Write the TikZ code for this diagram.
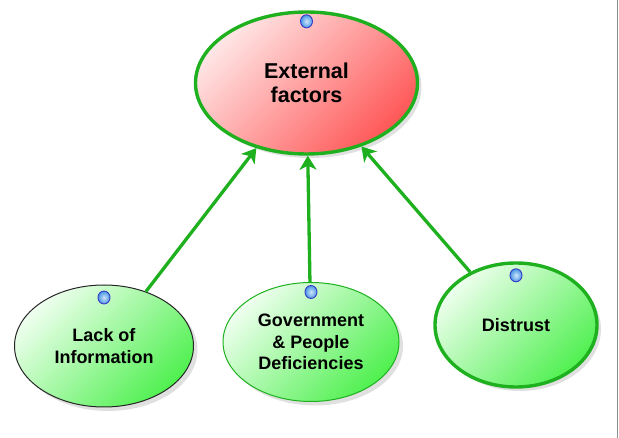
\documentclass[tikz,border=0pt]{standalone}
\usepackage{fontspec}
\setmainfont{Liberation Sans}
\usetikzlibrary{shapes.geometric, arrows.meta, shadows}

\definecolor{edgegreen}{RGB}{30,176,30}
\definecolor{pinklight}{RGB}{255,230,230}
\definecolor{reddeep}{RGB}{255,88,88}
\definecolor{greenlight}{RGB}{238,255,238}
\definecolor{greendeep}{RGB}{80,240,80}
\definecolor{dotblue}{RGB}{70,150,230}

\begin{document}
\begin{tikzpicture}[x=1pt, y=-1pt,
  bub/.style = {ellipse, inner sep=0pt, align=center,
    font=\bfseries\fontsize{18}{21.5}\selectfont,
    drop shadow={shadow xshift=4pt, shadow yshift=-4pt, opacity=.12, fill=black}},
  redbub/.style = {bub, draw=edgegreen, line width=3.4pt, top color=pinklight, bottom color=reddeep, shading angle=45},
  greenbub/.style = {bub, top color=greenlight, bottom color=greendeep, shading angle=45},
  dot/.style = {ellipse, inner color=dotblue!25!white, outer color=dotblue, draw=blue!55!gray, line width=.9pt, minimum width=12pt, minimum height=13pt, inner sep=0pt},
  arr/.style = {draw=edgegreen, line width=3.3pt, -{Stealth[length=14pt, width=17pt, inset=4pt]}}]
  \useasboundingbox (0,0) rectangle (619,438);

  \node[redbub, minimum width=222pt, minimum height=142pt, font=\bfseries\fontsize{21.5}{23.5}\selectfont] (ext) at (306.5,83) {External\\factors};
  \node[greenbub, draw=black!85, line width=1pt, minimum width=179pt, minimum height=122pt] (lack) at (104,346) {Lack of\\Information};
  \node[greenbub, draw=edgegreen, line width=1pt, minimum width=176pt, minimum height=119pt] (gov) at (311,342) {Government\\\& People\\Deficiencies};
  \node[greenbub, draw=edgegreen, line width=3.4pt, minimum width=162pt, minimum height=124pt] (dis) at (516,325) {Distrust};

  % little handles on top of each bubble
  \node[dot] (extdot) at ([yshift=-11pt]ext.north) {};
  \node[dot] (lackdot) at ([yshift=-13pt]lack.north) {};
  \node[dot] (govdot) at ([yshift=-10pt]gov.north) {};
  \node[dot] (disdot) at ([yshift=-14pt]dis.north) {};

  \draw[arr] (lack) -- (ext);
  \draw[arr] (gov) -- (ext);
  \draw[arr] (dis) -- (ext);

  \draw[black!45, line width=1.5pt] (617.5,0) -- (617.5,438);
\end{tikzpicture}
\end{document}
